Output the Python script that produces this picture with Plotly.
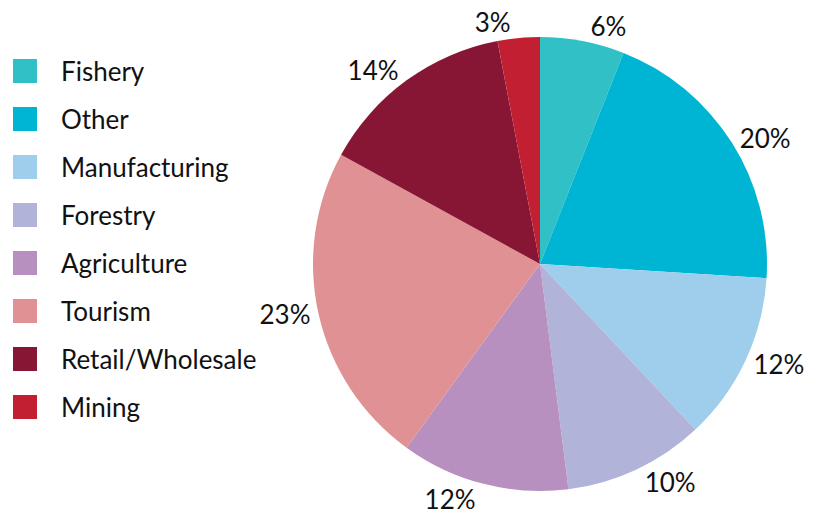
import plotly.graph_objects as go

SECTORS = [
    "Fishery",
    "Other",
    "Manufacturing",
    "Forestry",
    "Agriculture",
    "Tourism",
    "Retail/Wholesale",
    "Mining",
]
SHARES = [6, 20, 12, 10, 12, 23, 14, 3]
COLORS = [
    "#31c0c6",
    "#00b5d3",
    "#9fcdec",
    "#b1b3d9",
    "#b790c0",
    "#e09194",
    "#861634",
    "#c31f33",
]

W, H = 840, 520
FONT = "Lato, 'Open Sans', sans-serif"

# pie centre / radius in px (as big as the outside labels allow)
CX, CY, R = 540, 264, 227

fig = go.Figure()
fig.add_pie(
    labels=SECTORS,
    values=SHARES,
    sort=False,
    direction="clockwise",
    rotation=0,
    automargin=False,
    marker={"colors": COLORS, "line": {"width": 0}},
    textposition="outside",
    texttemplate="%{value}%",
    textfont={"size": 26, "color": "#111111", "family": FONT},
    showlegend=False,
    hoverinfo="label+value",
    domain={
        "x": [(CX - R) / W, (CX + R) / W],
        "y": [(H - CY - R) / H, (H - CY + R) / H],
    },
)

# hand-drawn legend: big squares, wide spacing like the original
shapes = []
annotations = []
for i, (name, color) in enumerate(zip(SECTORS, COLORS)):
    yc = 71 + 48.0 * i
    shapes.append(
        {
            "type": "rect",
            "xref": "paper",
            "yref": "paper",
            "x0": 13 / W,
            "x1": 37 / W,
            "y0": (H - yc - 12) / H,
            "y1": (H - yc + 12) / H,
            "fillcolor": color,
            "line": {"width": 0},
        }
    )
    annotations.append(
        {
            "text": name,
            "xref": "paper",
            "yref": "paper",
            "x": 59 / W,
            "y": (H - yc) / H,
            "xanchor": "left",
            "yanchor": "middle",
            "showarrow": False,
            "font": {"size": 26, "color": "#111111", "family": FONT},
        }
    )

fig.update_layout(
    width=W,
    height=H,
    autosize=False,
    margin={"l": 0, "r": 0, "t": 0, "b": 0},
    paper_bgcolor="white",
    plot_bgcolor="white",
    shapes=shapes,
    annotations=annotations,
    font={"family": FONT},
)

# drop the browser's default 8px body margin so the figure fills the window
fig.write_html(
    "out.html",
    config={"displayModeBar": False},
    post_script="document.body.style.margin = '0px';",
)
